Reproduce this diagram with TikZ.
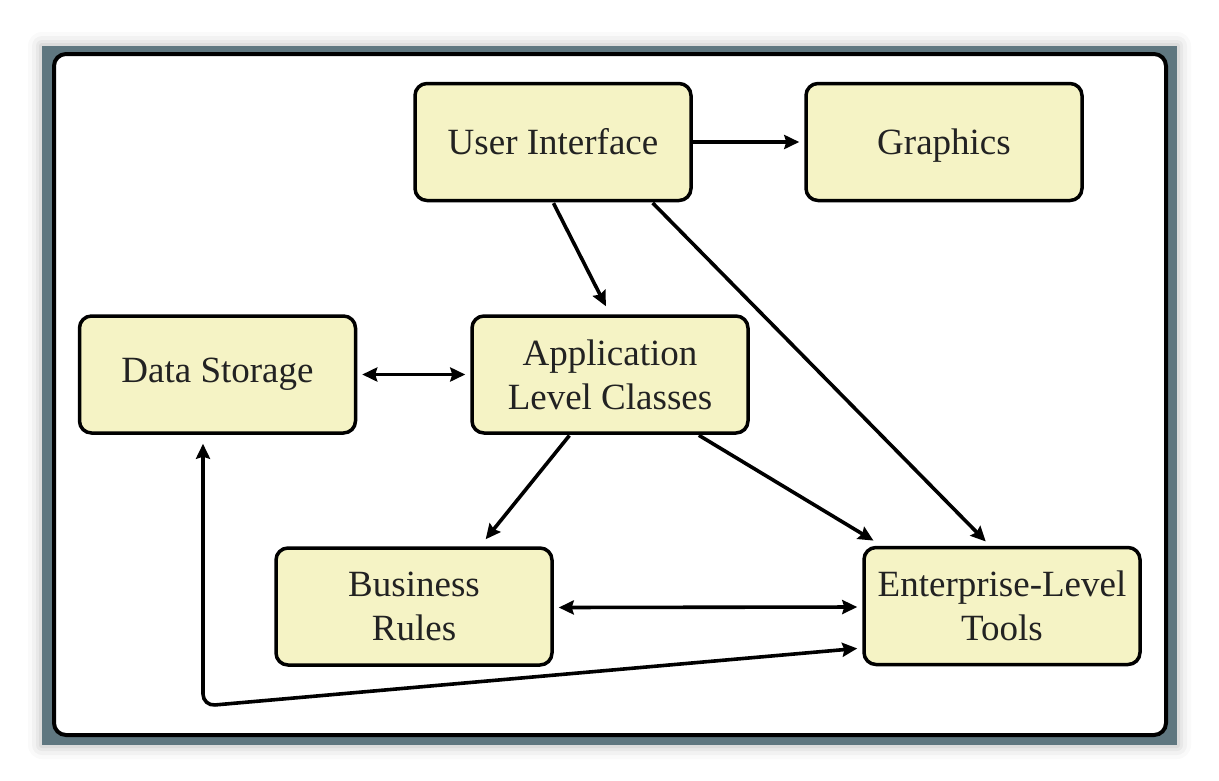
\documentclass[tikz,border=0pt]{standalone}
\usepackage{fontspec}
\setmainfont{Liberation Serif}
\usetikzlibrary{arrows.meta,calc}
\definecolor{boxfill}{RGB}{245,243,197}
\definecolor{framegrey}{RGB}{95,119,128}
\definecolor{textcol}{RGB}{34,34,34}
\tikzset{
  boxnode/.style={draw=black, line width=3.5pt, rounded corners=12pt, fill=boxfill,
    minimum width=276pt, minimum height=117pt, align=center, text=textcol,
    font=\fontsize{37}{44}\selectfont, inner sep=0pt},
  tip/.style={Stealth[length=15pt,width=14pt,inset=2pt]},
  conn/.style={line width=3.6pt, -{Stealth[length=15pt,width=14pt,inset=2pt]}},
  dconn/.style={line width=3.6pt, {Stealth[length=15pt,width=14pt,inset=2pt]}-{Stealth[length=15pt,width=14pt,inset=2pt]}}
}
\begin{document}
\begin{tikzpicture}[x=1pt,y=-1pt]
\useasboundingbox (0,0) rectangle (1219,780);
\fill[white] (0,0) rectangle (1219,780);
% soft shadow
\foreach \d/\o in {14/0.02,10/0.03,6/0.04,3/0.05}{
  \fill[black,opacity=\o,rounded corners=\d pt] (42-\d,46-\d) rectangle (1177+\d,745+\d);
}
% frame
\fill[framegrey] (42,46) rectangle (1177,745);
\draw[line width=4pt, fill=white, rounded corners=12pt] (54,54) rectangle (1166,735);

\node[boxnode] (ui)  at (553,142)   {User Interface};
\node[boxnode, text depth=0pt] (gr)  at (944,142)   {Graphics};
\node[boxnode] (ds)  at (217.5,374.5) {Data Storage};
\node[boxnode] (app) at (610,374.5) {Application\\Level Classes};
\node[boxnode] (br)  at (414,606.5) {Business\\Rules};
\node[boxnode] (ent) at (1002,606)  {Enterprise-Level\\Tools};
\coordinate (loop) at (203,706);

\draw[conn, shorten >=5pt] (ui.east) -- (gr.west);
\draw[conn, shorten <=1pt, shorten >=9pt] (ui.south) -- (app.north);
\draw[conn, shorten <=1pt, shorten >=6pt] ([xshift=99pt]ui.south) -- ([xshift=-12pt]ent.north);
\draw[conn, shorten <=1pt, shorten >=9pt] ([xshift=-40pt]app.south) -- ([xshift=66pt]br.north);
\draw[conn, shorten <=1pt, shorten >=10pt] ([xshift=88pt]app.south) -- ([xshift=-120pt]ent.north);
\draw[dconn, shorten <=5pt, shorten >=5pt] (ds.east) -- (app.west);
\draw[dconn, shorten <=5pt, shorten >=5pt] ([yshift=-1pt]br.east) -- ([yshift=-1pt]ent.west);
\draw[dconn, rounded corners=12pt, shorten <=9pt, shorten >=5pt] ([xshift=-14.5pt]ds.south) -- (loop) -- ([yshift=-42pt]ent.west);
\end{tikzpicture}
\end{document}
